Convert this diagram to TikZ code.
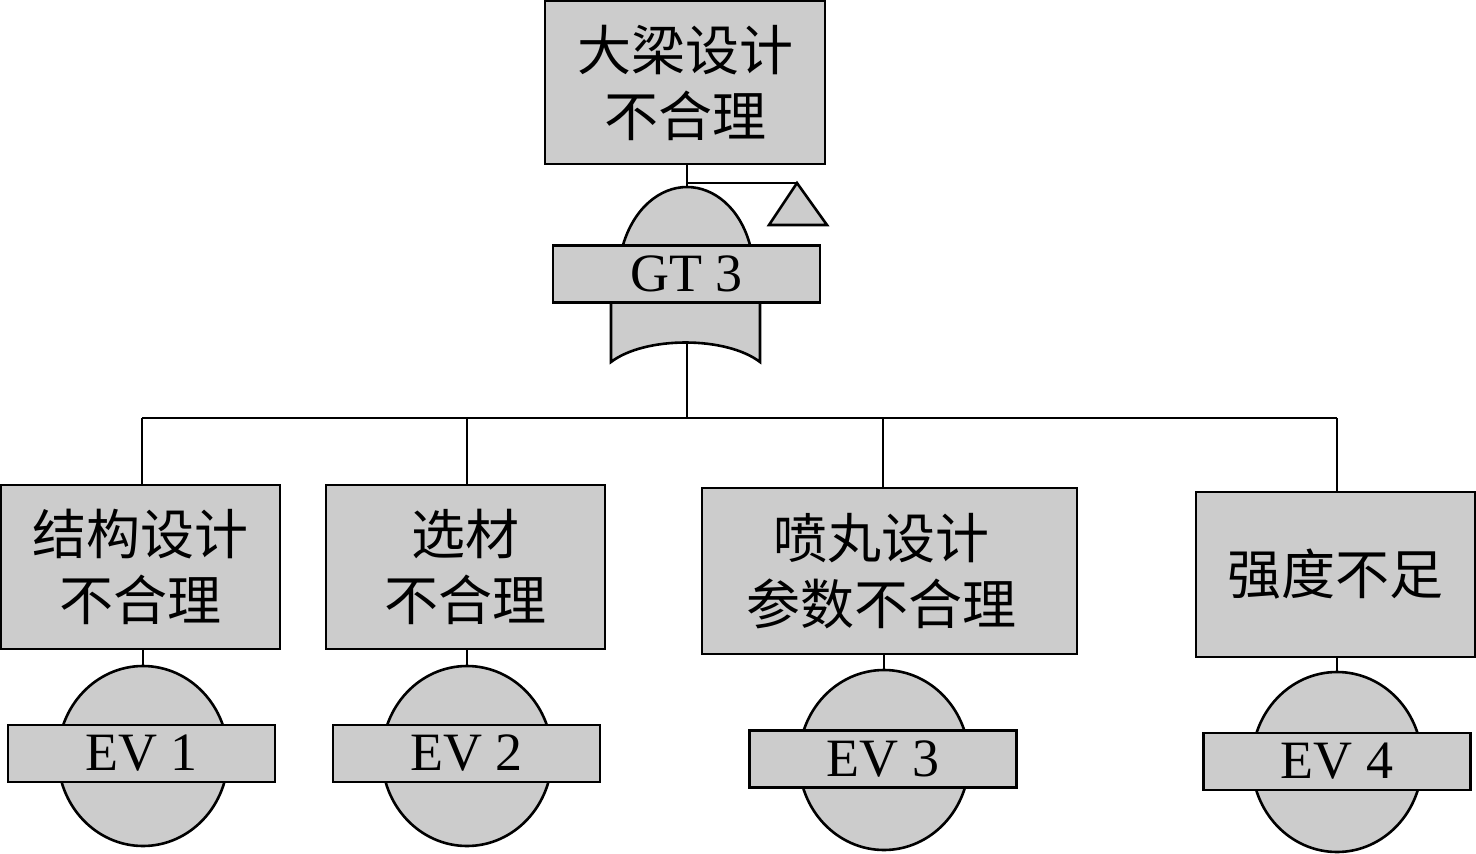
\documentclass[tikz,border=0pt]{standalone}
\usepackage{fontspec}
\setmainfont{Liberation Serif}
\newfontfamily\cjk{Noto Sans CJK SC}
\definecolor{gfill}{RGB}{204,204,204}
\begin{document}
\begin{tikzpicture}[x=1pt,y=-1pt,
  box/.style={draw=black,fill=gfill,line width=2.8pt,inner sep=0pt,align=center,
    font=\cjk\fontsize{54}{66}\selectfont},
  txt/.style={inner sep=0pt,align=center,font=\cjk\fontsize{54}{66}\selectfont},
  lab/.style={draw=black,fill=gfill,line width=2.8pt,inner sep=0pt,
    minimum width=267,minimum height=57,font=\fontsize{54}{60}\selectfont},
  shp/.style={draw=black,fill=gfill,line width=2.6pt},
  con/.style={draw=black,line width=2pt}]
\useasboundingbox (0,0) rectangle (1476,854);

% top event
\node[box,minimum width=280,minimum height=163] (top) at (685,82.5) {大梁设计\\不合理};

% OR gate GT3
\path[shp] (623,245) .. controls (634,208) and (660,187) .. (687,187)
  .. controls (714,187) and (740,208) .. (750,245);
\path[shp] (611,303) -- (611,362) .. controls (645,336) and (726,336) .. (760,362) -- (760,303);
\coordinate (gtop) at (687,187);
\coordinate (gbot) at (687,341);
\coordinate (tri) at (797,183);
\path[shp,line join=miter] (769,225) -- (tri) -- (827,225) -- cycle;
\node[lab] (gt3) at (686.5,274) {GT 3};

\draw[con] (gtop |- top.south) -- (gtop);
\draw[con] (687,183) -- (tri);

% bus
\coordinate (b1) at (142,418);
\coordinate (b2) at (467,418);
\coordinate (b0) at (687,418);
\coordinate (b3) at (883,418);
\coordinate (b4) at (1337,418);
\draw[con] (gbot) -- (b0);
\draw[con] (b1) -- (b4);

% intermediate boxes
\node[box,minimum width=279,minimum height=164] (n1) at (140.5,567) {结构设计\\不合理};
\node[box,minimum width=279,minimum height=164] (n2) at (465.5,567) {选材\\不合理};
\node[box,minimum width=375,minimum height=166] (n3) at (889.5,571) {};
\node[txt] (n3t) at (881,571) {喷丸设计\\参数不合理};
\node[box,minimum width=279,minimum height=165] (n4) at (1335.5,574.5) {强度不足};

\draw[con] (b1) -- (b1 |- n1.north);
\draw[con] (b2) -- (b2 |- n2.north);
\draw[con] (b3) -- (b3 |- n3.north);
\draw[con] (b4) -- (b4 |- n4.north);

% basic events
\path[shp] (143,756) ellipse [x radius=85,y radius=90];
\path[shp] (467,756) ellipse [x radius=85,y radius=90];
\path[shp] (884,760) ellipse [x radius=85,y radius=90];
\path[shp] (1337,762) ellipse [x radius=85,y radius=90];
\coordinate (e1) at (143,666);
\coordinate (e2) at (467,666);
\coordinate (e3) at (884,670);
\coordinate (e4) at (1337,672);
\node[lab] (ev1) at (141.5,753.5) {EV 1};
\node[lab] (ev2) at (466.5,753.5) {EV 2};
\node[lab] (ev3) at (883,759) {EV 3};
\node[lab] (ev4) at (1337,761.5) {EV 4};

\draw[con] (e1 |- n1.south) -- (e1);
\draw[con] (e2 |- n2.south) -- (e2);
\draw[con] (e3 |- n3.south) -- (e3);
\draw[con] (e4 |- n4.south) -- (e4);
\end{tikzpicture}
\end{document}
